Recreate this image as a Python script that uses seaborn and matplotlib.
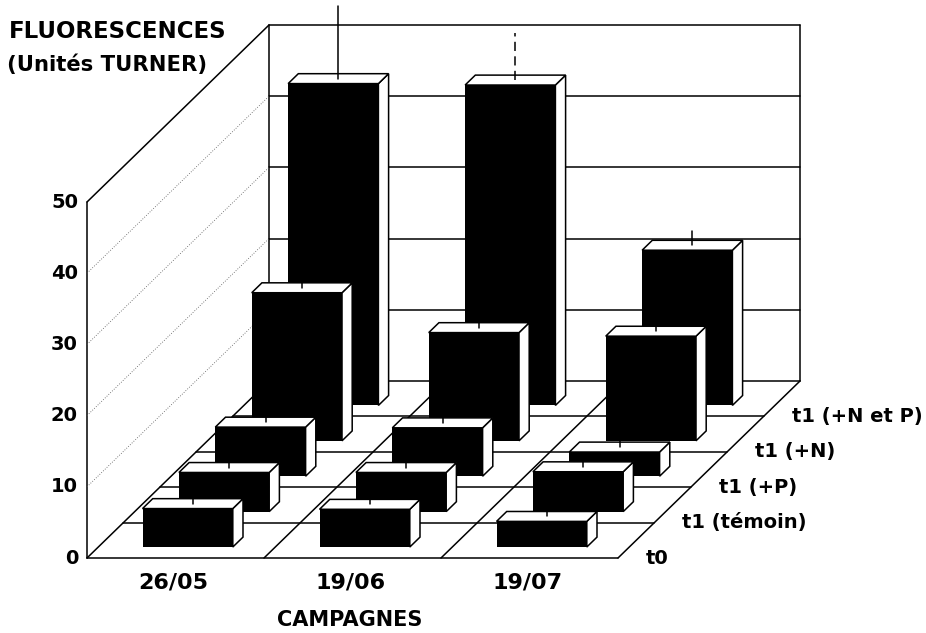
import matplotlib
matplotlib.use("Agg")
import matplotlib.pyplot as plt
import seaborn as sns
from matplotlib.transforms import Affine2D

# values (fluorescence, Turner units)
campaigns = ["26/05", "19/06", "19/07"]
rows = ["t0", "t1 (témoin)", "t1 (+P)", "t1 (+N)", "t1 (+N et P)"]
t0_values = [5.4, 5.3, 3.6]
temoin_values = [5.5, 5.5, 5.6]
plus_p_values = [6.9, 6.8, 3.4]
plus_n_values = [20.8, 15.2, 14.7]
plus_np_values = [45.2, 45.0, 21.8]
t0_err = [0.8, 0.8, 1.2]
temoin_err = [0.8, 0.8, 0.8]
plus_p_err = [0.8, 0.8, 0.8]
plus_n_err = [0.8, 0.8, 0.8]
plus_np_err = [10.2, 6.6, 2.0]
y_ticks = [0, 10, 20, 30, 40, 50]

series = [t0_values, temoin_values, plus_p_values, plus_n_values, plus_np_values]
errors = [t0_err, temoin_err, plus_p_err, plus_n_err, plus_np_err]

# oblique projection of the chart box onto the page
X0, Y0 = 87, 558
CAT_W = 177
DEPTH_X, DEPTH_Y = 36.4, -35.4
UNIT_Y = -7.12
BAR_W = 0.51
BAR_FRONT = 0.31
BAR_DEPTH = 0.28


def proj(cat, depth, value=0):
    return (X0 + CAT_W * cat + DEPTH_X * depth,
            Y0 + DEPTH_Y * depth + UNIT_Y * value)


def front_transform(depth):
    x, y = proj(0.505, depth)
    return Affine2D.from_values(CAT_W, 0, 0, UNIT_Y, x, y)


sns.set_theme(style="white")
plt.rcParams["font.family"] = ["DejaVu Sans"]

fig = plt.figure(figsize=(9.26, 6.33), dpi=100)
ax = fig.add_axes([0, 0, 1, 1])


def line(a, b, **kw):
    kw.setdefault("color", "black")
    kw.setdefault("lw", 1.1)
    kw.setdefault("zorder", 1)
    ax.plot([a[0], b[0]], [a[1], b[1]], solid_capstyle="round", **kw)


# walls and floor
n_cat, n_row = len(campaigns), len(rows)
top = y_ticks[-1]
line(proj(0, 0), proj(0, 0, top))
line(proj(0, 0, top), proj(0, n_row, top))
line(proj(0, n_row), proj(0, n_row, top))
line(proj(n_cat, n_row), proj(n_cat, n_row, top))
line(proj(0, n_row, top), proj(n_cat, n_row, top))
for v in y_ticks[:-1]:
    line(proj(0, n_row, v), proj(n_cat, n_row, v))
    if v > 0:
        line(proj(0, 0, v), proj(0, n_row, v), lw=0.6, ls=(0, (1, 2)), color="#555555")
for c in range(n_cat + 1):
    line(proj(c, 0), proj(c, n_row))
for d in range(n_row):
    line(proj(0, d), proj(n_cat, d))

# bars, back row first
positions = list(range(n_cat))
for r in reversed(range(n_row)):
    front = r + BAR_FRONT
    back = front + BAR_DEPTH
    z = 10 + 2 * (n_row - r)
    sns.barplot(x=positions, y=series[r], native_scale=True, orient="x", width=BAR_W,
                color="black", saturation=1, errorbar=None, ax=ax, zorder=z + 1,
                linewidth=0, transform=front_transform(front) + ax.transData)
    for c, (val, err) in enumerate(zip(series[r], errors[r])):
        left = c + 0.505 - BAR_W / 2
        right = c + 0.505 + BAR_W / 2
        side = [proj(right, front, 0), proj(right, back, 0), proj(right, back, val), proj(right, front, val)]
        lid = [proj(left, front, val), proj(left, back, val), proj(right, back, val), proj(right, front, val)]
        for face in (side, lid):
            ax.fill(*zip(*face), facecolor="white", edgecolor="black", lw=1.1, zorder=z)
        mid = (front + back) / 2
        ls = (0, (6, 3.5)) if (r, c) == (4, 1) else "-"
        ax.plot(*zip(proj(c + 0.505, mid, val), proj(c + 0.505, mid, val + err)),
                color="black", lw=1.1, ls=ls, zorder=z + 2)

# text
font = dict(fontweight="bold", color="black")
for v in y_ticks:
    ax.text(X0 - 9, proj(0, 0, v)[1], str(v), ha="right", va="center", fontsize=14, **font)
for c, name in enumerate(campaigns):
    ax.text(X0 + CAT_W * (c + 0.49), 582, name, ha="center", va="center", fontsize=16, **font)
for r, name in enumerate(rows):
    x, y = proj(n_cat, r)
    ax.text(x + 28, y, name, ha="left", va="center", fontsize=14, **font)
ax.text(350, 620, "CAMPAGNES", ha="center", va="center", fontsize=15, **font)
ax.text(9, 31, "FLUORESCENCES", ha="left", va="center", fontsize=16.5, **font)
ax.text(7, 65, "(Unités TURNER)", ha="left", va="center", fontsize=15.2, **font)

ax.set_xlim(0, 926)
ax.set_ylim(633, 0)
ax.set_axis_off()
fig.savefig("out.png", dpi=100)
